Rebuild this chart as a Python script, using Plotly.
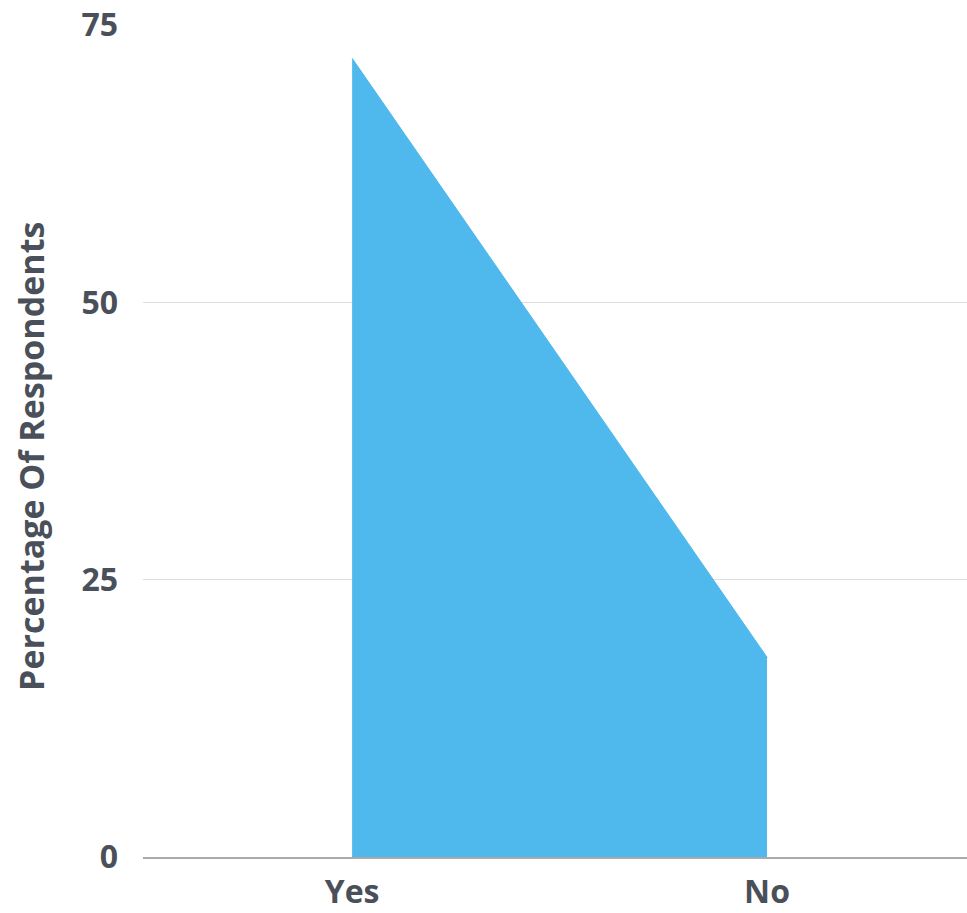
import plotly.graph_objects as go

categories = ["Yes", "No"]
values = [72, 18]
y_ticks = [0, 25, 50, 75]
y_title = "Percentage Of Respondents"

text_color = "#4a5059"
fill_color = "#4fb8ec"
fs = 32

fig = go.Figure()
fig.add_trace(go.Scatter(
    x=categories, y=values, mode="lines", fill="tozeroy",
    line=dict(color=fill_color, width=1, shape="linear"),
    fillcolor=fill_color, hoverinfo="skip", showlegend=False,
))

fig.update_layout(
    width=967, height=913,
    margin=dict(l=143, r=0, t=25, b=56),
    paper_bgcolor="white", plot_bgcolor="white",
    font=dict(family="Open Sans", color=text_color, size=fs),
    xaxis=dict(
        type="category", range=[-0.504, 1.482], automargin=False,
        showgrid=False, zeroline=False,
        showline=True, linecolor="#aaaaaa", linewidth=2,
        tickfont=dict(size=fs, family="Open Sans", weight="bold", color=text_color),
        ticks="", ticklabelstandoff=6,
    ),
    yaxis=dict(
        range=[0, 75], tickvals=y_ticks, automargin=False,
        showgrid=True, gridcolor="#dddddd", gridwidth=1,
        zeroline=False, showline=False,
        tickfont=dict(size=fs, family="Open Sans", weight="bold", color=text_color),
        ticks="", ticklabelstandoff=24,
    ),
    annotations=[dict(
        text=y_title, textangle=-90, showarrow=False,
        xref="paper", yref="paper", x=-0.136, y=0.482,
        xanchor="center", yanchor="middle",
        font=dict(size=34, family="Open Sans", weight="bold", color=text_color),
    )],
)

fig.write_html("out.html")
